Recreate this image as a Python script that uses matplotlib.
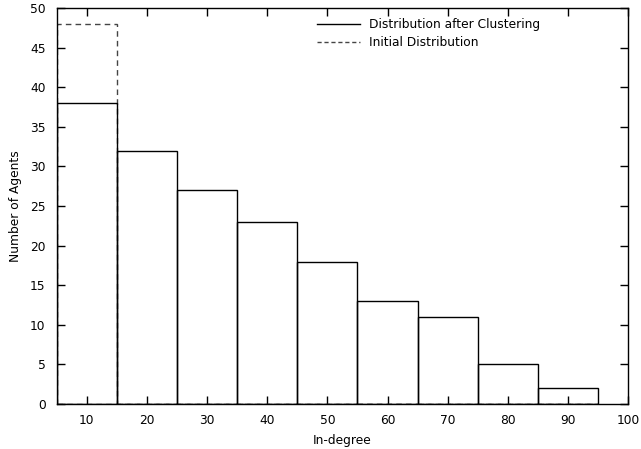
import matplotlib
matplotlib.use("Agg")
import matplotlib.pyplot as plt
from matplotlib.lines import Line2D

plt.rcParams['font.family'] = ['DejaVu Sans']

bins = [10, 20, 30, 40, 50, 60, 70, 80, 90]
after_clustering = [38, 32, 27, 23, 18, 13, 11, 5, 2]
initial = [48, 0, 0, 0, 0, 0, 0, 0, 0]
xticks = [10, 20, 30, 40, 50, 60, 70, 80, 90, 100]
yticks = [0, 5, 10, 15, 20, 25, 30, 35, 40, 45, 50]

fs = 8.8
fig = plt.figure(figsize=(6.41, 4.49), dpi=100)
ax = fig.add_axes([0.0885, 0.1, 0.8915, 0.882])

ax.bar(bins, initial, width=10, fill=False, edgecolor='#444444',
       linestyle=(0, (4, 3)), linewidth=1.0, zorder=2)
ax.bar(bins, after_clustering, width=10, fill=False, edgecolor='black',
       linewidth=1.0, zorder=3)

ax.set_xlim(5, 100)
ax.set_ylim(0, 50)
ax.set_xticks(xticks)
ax.set_yticks(yticks)
ax.tick_params(direction='in', top=True, right=True, length=6, width=1,
               labelsize=fs)
ax.tick_params(axis='y', pad=8)
ax.tick_params(axis='x', pad=7)
for s in ax.spines.values():
    s.set_linewidth(1.0)
ax.set_xlabel('In-degree', fontsize=fs, labelpad=5)
ax.set_ylabel('Number of Agents', fontsize=fs, labelpad=6)

handles = [Line2D([], [], color='black', lw=1.0),
           Line2D([], [], color='#444444', lw=1.0, linestyle=(0, (3, 2)))]
ax.legend(handles, ['Distribution after Clustering', 'Initial Distribution'],
          loc='upper left', bbox_to_anchor=(0.437, 1.0), frameon=False,
          fontsize=fs, handlelength=3.5, handletextpad=0.8, labelspacing=0.4,
          borderaxespad=0.45)

fig.savefig('out.png', dpi=100)
